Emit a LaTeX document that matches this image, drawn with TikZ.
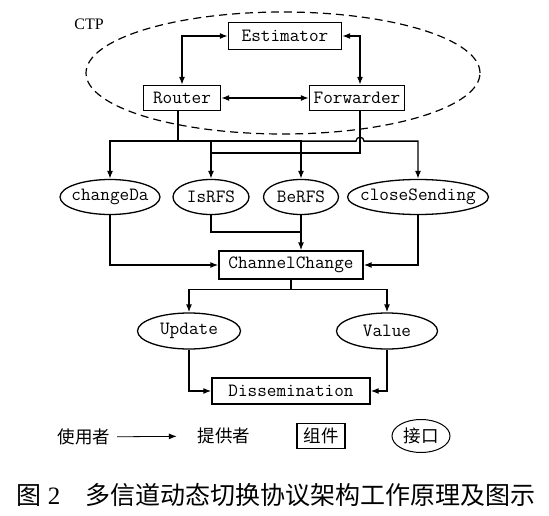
\documentclass[tikz,border=0pt]{standalone}
\usepackage{fontspec}
\setmainfont{Liberation Serif}
\newfontfamily\cjk{Noto Sans CJK SC}
\usetikzlibrary{positioning, arrows.meta, shapes.geometric}
\tikzstyle{comp} = [draw, rectangle, line width=1.3pt, inner sep=0pt]
\tikzstyle{legtext} = [font=\cjk\fontsize{17.5}{20}\selectfont]
\tikzset{iface/.style={draw, ellipse, line width=1.3pt, inner sep=0pt, minimum height=35pt, label={center:#1}}}

\begin{document}
\begin{tikzpicture}[>={Latex[length=8pt,width=6pt]}, line width=1.3pt, font=\ttfamily\fontsize{18.7}{20}\selectfont]
	\useasboundingbox (0,0) rectangle (549pt,-516pt);
	\begin{scope}[x=1pt, y=1pt]
	
	% CTP
	\node[draw, ellipse, dash pattern=on 8pt off 5pt, line width=1.2pt, minimum width=394pt, minimum height=122pt] (ctp) at (283,-73) {};
	\node[font=\rmfamily\fontsize{16}{18}\selectfont] (ctplbl) at (89,-24) {CTP};
	
	% components
	\node[comp, minimum width=113pt, minimum height=27pt] (est) at (285,-36) {Estimator};
	\node[comp, minimum width=77pt, minimum height=25pt] (router) at (182,-98) {Router};
	\node[comp, minimum width=95pt, minimum height=25pt] (fwd) at (357,-98) {Forwarder};
	\node[comp, minimum width=144pt, minimum height=28pt] (chc) at (291,-265) {ChannelChange};
	\node[comp, minimum width=158pt, minimum height=26pt] (dis) at (291,-391) {Dissemination};
	
	% interfaces
	\node[iface=changeDa, minimum width=100pt] (chd) at (110,-197) {};
	\node[iface=IsRFS, minimum width=76pt] (isr) at (211,-197) {};
	\node[iface=BeRFS, minimum width=75pt] (ber) at (301,-197) {};
	\node[iface=closeSending, minimum width=141pt] (cls) at (418,-197) {};
	\node[iface=Update, minimum width=103pt, minimum height=36pt] (upd) at (189,-331) {};
	\node[iface=Value, minimum width=101pt, minimum height=36pt] (val) at (387,-331) {};
	
	% inside CTP
	\draw[<->] (router.north) |- (est.west);
	\draw[<->] (est.east) -| ([xshift=3pt]fwd.north);
	\draw[<->] (router.east) -- (fwd.west);
	
	% router and forwarder down to interfaces
	\draw ([xshift=-4pt]router.south) -- ++(0,-30) coordinate (rbus);
	\draw[->] (rbus) -| (chd.north);
	\draw[->] (rbus) -| (isr.north);
	\draw[->] (rbus) -| (ber.north);
	\draw[->] (rbus) -- ([xshift=-1pt]fwd.south |- rbus) arc[start angle=180, end angle=0, radius=4pt] -- (cls.north |- rbus) -- (cls.north);
	\coordinate (fbus) at (211,-153);
	\draw ([xshift=3pt]fwd.south) |- (fbus);
	
	% interfaces to ChannelChange
	\coordinate (ijoin) at (301,-232);
	\draw[->] (chd.south) |- (chc.west);
	\draw (isr.south) |- (ijoin);
	\draw[->] (ber.south) -- (ber.south |- chc.north);
	\draw[->] (cls.south) |- (chc.east);
	
	% ChannelChange to Dissemination
	\draw (chc.south) -- ++(0,-10) coordinate (cbus);
	\draw[->] (cbus) -| (upd.north);
	\draw[->] (cbus) -| (val.north);
	\draw[->] (upd.south) |- (dis.west);
	\draw[->] (val.south) |- (dis.east);
	
	% legend
	\node[legtext] (user) at (84,-437) {使用者};
	\node[legtext] (prov) at (224,-436) {提供者};
	\draw[->, line width=0.8pt, shorten <=3pt, shorten >=17pt] (user) -- (prov);
	\node[comp, legtext, minimum width=48pt, minimum height=25pt] (legcomp) at (321,-436) {组件};
	\node[draw, ellipse, legtext, line width=1pt, inner sep=0pt, minimum width=58pt, minimum height=33pt] (legif) at (421,-436) {接口};
	
	% caption
	\node[anchor=west, inner sep=0pt, font=\rmfamily\fontsize{25}{28}\selectfont] (cap) at (16,-495) {{\cjk 图}~2\hspace{1em}{\cjk 多信道动态切换协议架构工作原理及图示}};
	
	\end{scope}
\end{tikzpicture}
\end{document}
